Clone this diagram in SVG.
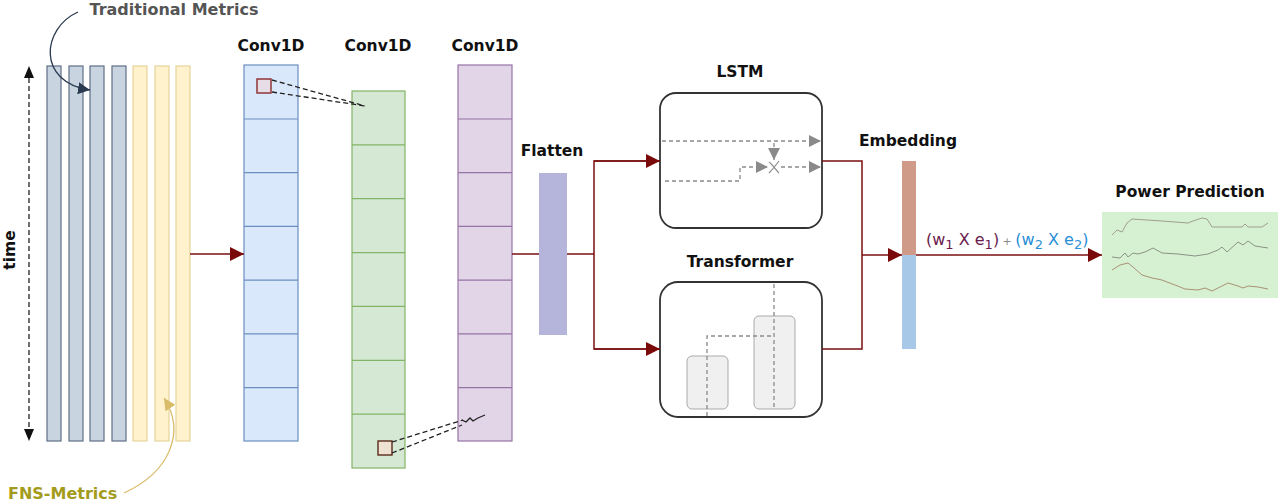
<svg xmlns="http://www.w3.org/2000/svg" width="1280" height="501" viewBox="0 0 1280 501">
<defs>
<style>
.lbl{font-family:"DejaVu Sans",Verdana,sans-serif;font-weight:bold;font-size:15.5px;fill:#111;text-anchor:middle}
.bar{fill:#c9d4e1;stroke:#5f6f85;stroke-width:1.2}
.ybar{fill:#fff2cc;stroke:#e6d49c;stroke-width:1.2}
.c1{fill:#dae8fc;stroke:#6c8ebf;stroke-width:1.2}
.c2{fill:#d5e8d4;stroke:#82b366;stroke-width:1.2}
.c3{fill:#e1d5e7;stroke:#9673a6;stroke-width:1.2}
.cell1{stroke:#6c8ebf;stroke-width:1.2}
.cell2{stroke:#82b366;stroke-width:1.2}
.cell3{stroke:#9673a6;stroke-width:1.2}
.red{fill:none;stroke:#7a0f0f;stroke-width:1.5}
.dash{fill:none;stroke:#222;stroke-width:1.3;stroke-dasharray:5 3}
.gdash{fill:none;stroke:#8a8a8a;stroke-width:1.3;stroke-dasharray:4 3}
.box{fill:#fff;stroke:#333;stroke-width:1.8}
.inner{fill:#f0f0f0;stroke:#aaa;stroke-width:1}
.wave{fill:none;stroke-width:1;stroke-linejoin:round}
.formula{font-family:"DejaVu Sans",sans-serif;font-size:16px}
</style>
<marker id="ar" viewBox="0 0 10 10" refX="10" refY="5" markerWidth="14" markerHeight="14" markerUnits="userSpaceOnUse" orient="auto"><path d="M0,0 L10,5 L0,10 z" fill="#7a0a0a"/></marker>
<marker id="ag" viewBox="0 0 10 10" refX="10" refY="5" markerWidth="12" markerHeight="12" markerUnits="userSpaceOnUse" orient="auto"><path d="M0,0 L10,5 L0,10 z" fill="#8a8a8a"/></marker>
<marker id="an" viewBox="0 0 10 10" refX="10" refY="5" markerWidth="12" markerHeight="12" markerUnits="userSpaceOnUse" orient="auto"><path d="M0,0 L10,5 L0,10 z" fill="#2a3a50"/></marker>
<marker id="ay" viewBox="0 0 10 10" refX="10" refY="5" markerWidth="12" markerHeight="12" markerUnits="userSpaceOnUse" orient="auto"><path d="M0,0 L10,5 L0,10 z" fill="#d9bc6a"/></marker>
</defs>
<rect width="1280" height="501" fill="#fff"/>

<g id="input-metrics">
<rect class="bar" x="47" y="66" width="14" height="375"/>
<rect class="bar" x="69" y="66" width="14" height="375"/>
<rect class="bar" x="90" y="66" width="14" height="375"/>
<rect class="bar" x="112" y="66" width="14" height="375"/>
<rect class="ybar" x="133" y="66" width="14" height="375"/>
<rect class="ybar" x="155" y="66" width="14" height="375"/>
<rect class="ybar" x="176" y="66" width="14" height="375"/>
</g>

<g id="time-axis">
<line x1="29" y1="78" x2="29" y2="430" class="dash" stroke-dasharray="4 3"/>
<path d="M29,66 L24,78 L34,78 z" fill="#111"/>
<path d="M29,441 L24,429 L34,429 z" fill="#111"/>
<text class="lbl" transform="translate(15,250) rotate(-90)">time</text>
</g>

<g id="traditional-metrics">
<text class="lbl" x="174" y="15" style="fill:#555;font-size:16px">Traditional Metrics</text>
<path d="M78,12 C42,28 36,82 90,90" fill="none" stroke="#2a3a50" stroke-width="1.3" marker-end="url(#an)"/>
</g>

<g id="fns-metrics">
<text x="8" y="499" style="font-family:'DejaVu Sans',sans-serif;font-weight:bold;font-size:16px;fill:#a39b1c">FNS-Metrics</text>
<path d="M124,493 C170,472 186,432 164,398" fill="none" stroke="#d9bc6a" stroke-width="1.3" marker-end="url(#ay)"/>
</g>

<g id="conv1">
<text class="lbl" x="271" y="51">Conv1D</text>
<rect class="c1" x="244" y="65" width="54" height="376"/>
<path class="cell1" d="M244,119H298M244,172.7H298M244,226.4H298M244,280.1H298M244,333.9H298M244,387.6H298"/>
<rect x="257" y="79" width="14" height="14" fill="#e6dde6" stroke="#8b2a2a" stroke-width="1.4"/>
</g>

<g id="conv2">
<text class="lbl" x="378" y="51">Conv1D</text>
<rect class="c2" x="352" y="91" width="53" height="377"/>
<path class="cell2" d="M352,144.9H405M352,198.7H405M352,252.6H405M352,306.4H405M352,360.3H405M352,414.1H405"/>
<rect x="378" y="441" width="14" height="14" fill="#efe2d2" stroke="#5a2a1a" stroke-width="1.4"/>
</g>

<g id="conv3">
<text class="lbl" x="485" y="51">Conv1D</text>
<rect class="c3" x="458" y="65" width="54" height="376"/>
<path class="cell3" d="M458,119H512M458,172.7H512M458,226.4H512M458,280.1H512M458,333.9H512M458,387.6H512"/>
</g>

<g id="flatten">
<text class="lbl" x="552" y="156">Flatten</text>
<rect x="539" y="173" width="28" height="162" fill="#b5b5dc"/>
</g>

<g id="lstm">
<text class="lbl" x="740" y="77">LSTM</text>
<rect class="box" x="660" y="93" width="162" height="135" rx="16"/>
<line class="gdash" x1="662" y1="141" x2="821" y2="141" marker-end="url(#ag)"/>
<line class="gdash" x1="774" y1="143" x2="774" y2="160" marker-end="url(#ag)"/>
<path class="gdash" d="M665,181 H740 V167 H768" marker-end="url(#ag)"/>
<path d="M769,162 C772,164 776,170 779,173 M779,161 C776,165 772,170 769,173" fill="none" stroke="#8a8a8a" stroke-width="1.2"/>
<line class="gdash" x1="781" y1="167" x2="821" y2="167" marker-end="url(#ag)"/>
</g>

<g id="transformer">
<text class="lbl" x="740" y="267">Transformer</text>
<rect class="box" x="660" y="282" width="162" height="135" rx="18"/>
<rect class="inner" x="687" y="356" width="41" height="53" rx="5"/>
<rect class="inner" x="754" y="316" width="41" height="93" rx="5"/>
<path class="gdash" d="M774,284 V409 M707,416 V336 H774"/>
</g>

<g id="embedding">
<text class="lbl" x="908" y="146">Embedding</text>
<rect x="902" y="161" width="14" height="94" fill="#cf9a88"/>
<rect x="902" y="255" width="14" height="94" fill="#a8c8e8"/>
</g>

<g id="power-prediction">
<text class="lbl" x="1190" y="197">Power Prediction</text>
<rect x="1102" y="212" width="176" height="86" fill="#d6f0d2"/>
<polyline class="wave" stroke="#a0a08c" points="1112,235 1117,230 1122,232 1127,223 1132,219 1162,221 1188,223 1193,221 1202,218 1207,219 1212,227 1242,227 1245,224 1248,227 1262,227 1268,223"/>
<polyline class="wave" stroke="#8a9484" points="1112,257 1120,258 1125,253 1128,257 1133,253 1138,254 1145,252 1153,248 1162,253 1178,254 1195,256 1208,254 1218,250 1222,247 1227,252 1238,242 1243,245 1248,241 1255,246 1268,248"/>
<polyline class="wave" stroke="#a89274" points="1112,270 1120,265 1128,263 1133,267 1142,275 1152,278 1162,280 1167,282 1175,285 1185,289 1198,290 1205,288 1212,291 1228,283 1238,286 1243,288 1248,286 1258,287 1268,289"/>
</g>

<g id="connectors">
<line class="red" x1="190" y1="254" x2="244" y2="254" marker-end="url(#ar)"/>
<path class="dash" d="M272,80 L365,106 M272,92 L365,106"/>
<path class="dash" d="M392,442 L463,420 M392,453 L462,425"/>
<path d="M462,420 l4,2 l4,-4 l3,3 l5,-3 l7,-3" fill="none" stroke="#222" stroke-width="1.3"/>
<line class="red" x1="512" y1="254" x2="539" y2="254"/>
<line class="red" x1="567" y1="254" x2="594" y2="254"/>
<path class="red" d="M660,161 H594 V349 H660"/>
<line class="red" x1="594" y1="161" x2="660" y2="161" marker-end="url(#ar)"/>
<line class="red" x1="594" y1="349" x2="660" y2="349" marker-end="url(#ar)"/>
<path class="red" d="M822,161 H862 V349 H822"/>
<line class="red" x1="862" y1="255" x2="902" y2="255" marker-end="url(#ar)"/>
<line class="red" x1="916" y1="255" x2="1102" y2="255" marker-end="url(#ar)"/>
<text class="formula" x="926" y="245"><tspan fill="#6a1b4d">(w<tspan font-size="13" dy="4">1</tspan><tspan dy="-4"> X e</tspan><tspan font-size="13" dy="4">1</tspan><tspan dy="-4">)</tspan></tspan><tspan fill="#888" font-size="11"> + </tspan><tspan fill="#2b8fd6">(w<tspan font-size="13" dy="4">2</tspan><tspan dy="-4"> X e</tspan><tspan font-size="13" dy="4">2</tspan><tspan dy="-4">)</tspan></tspan></text>
</g>
</svg>
